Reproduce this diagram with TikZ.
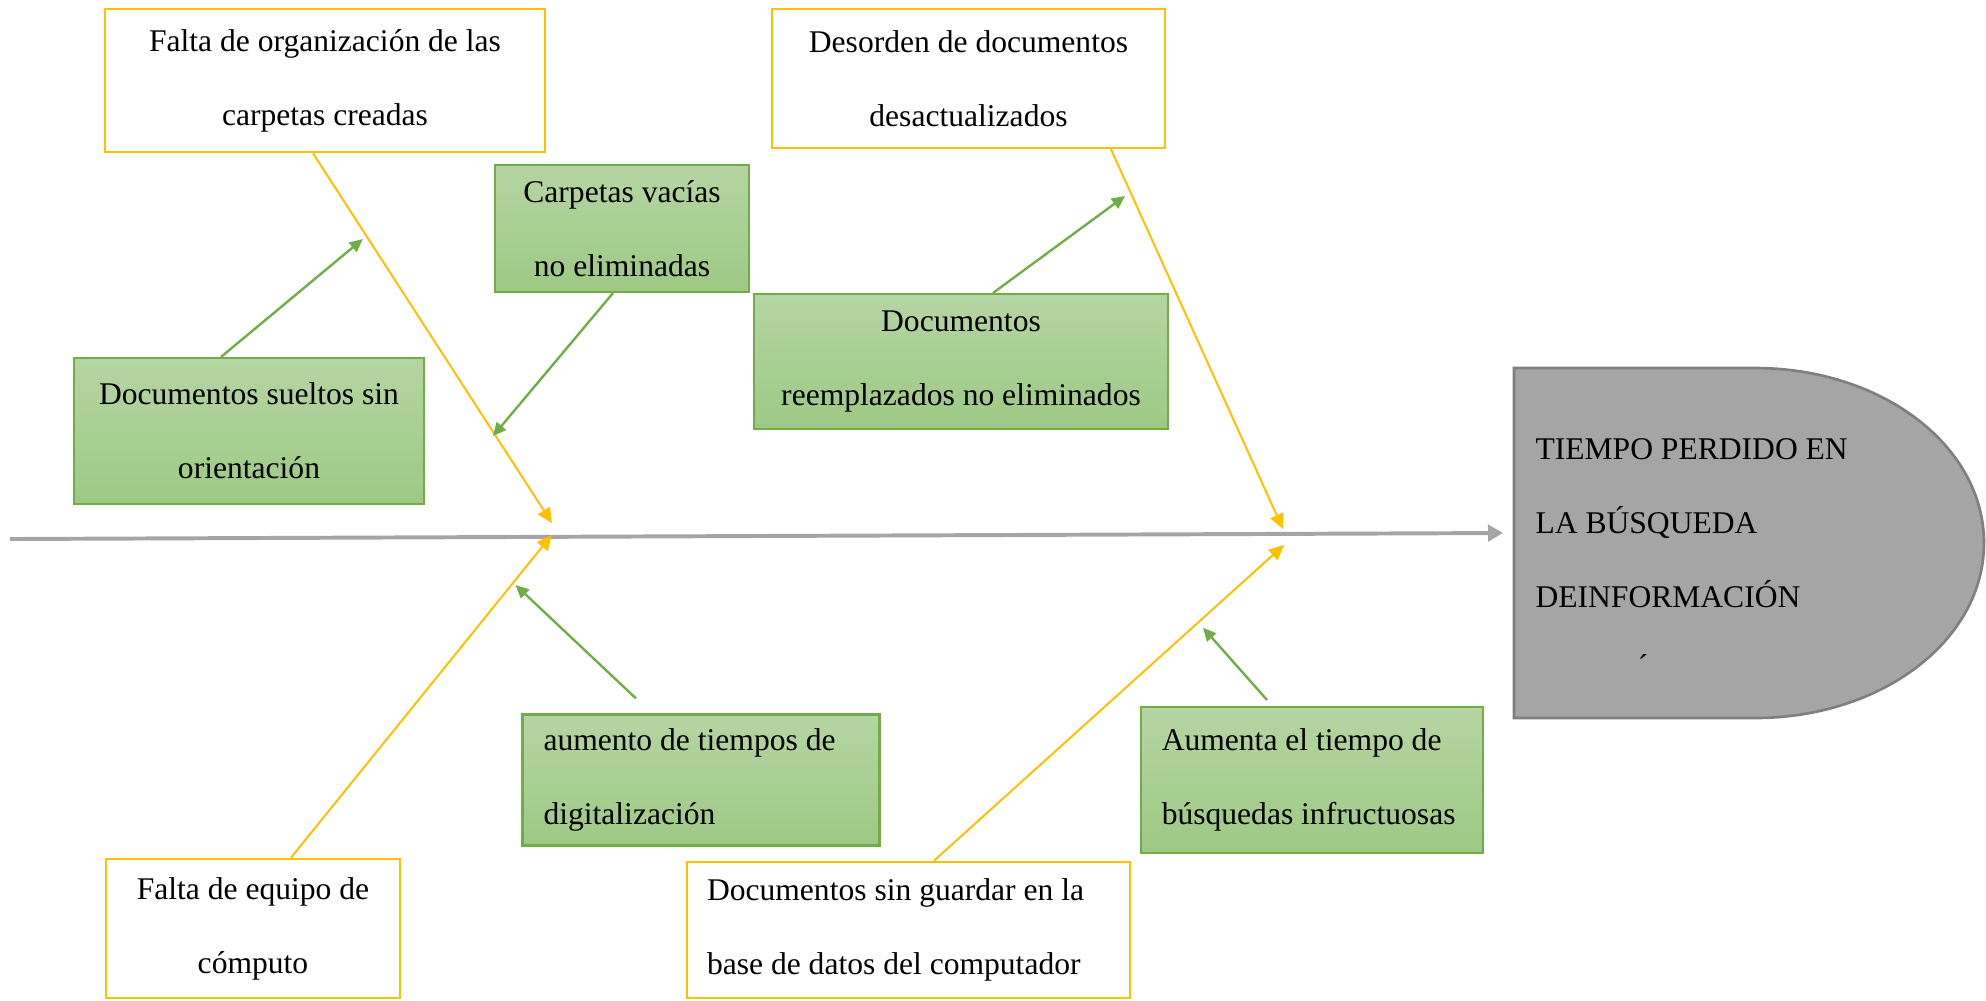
\documentclass[tikz,border=0pt]{standalone}
\usepackage{fontspec}
\setmainfont{Liberation Serif}
\usetikzlibrary{arrows.meta}
\definecolor{causeyellow}{HTML}{FFC000}
\definecolor{subgreen}{HTML}{70AD47}
\definecolor{greentop}{RGB}{181,213,163}
\definecolor{greenbot}{RGB}{157,201,132}
\definecolor{headgray}{HTML}{A5A5A5}
\definecolor{headline}{HTML}{7F7F7F}
\newcommand{\pu}{0.38pt}

\begin{document}
\begin{tikzpicture}
[
 x=0.38pt, y=-0.38pt,
 every node/.style={font=\fontsize{12}{28.1}\selectfont},
 inner sep=0mm,
 C1/.style={rectangle, draw=causeyellow, fill=white, line width=1pt, align=center},
 C2/.style={rectangle, draw=subgreen, top color=greentop, bottom color=greenbot, line width=0.8pt, align=center},
 C2L/.style={C2, align=flush left, inner xsep=21*\pu},
 H1/.style={anchor=base west, inner sep=0pt},
 YA/.style={draw=causeyellow, line width=0.75pt, -{Triangle[length=5.7pt,width=5.3pt]}},
 GA/.style={draw=subgreen, line width=0.9pt, -{Triangle[length=5pt,width=4.6pt]}},
 SP/.style={draw=headgray, line width=1.5pt, -{Triangle[length=5.7pt,width=6.2pt]}}
 ],
 %
\useasboundingbox (0,0) rectangle (1986,1000);
%
% head of the fish
\fill [headgray, draw=headline, line width=1pt] (1514,368) -- (1755,368)
  .. controls (1882,368) and (1984,446) .. (1984,543)
  .. controls (1984,640) and (1882,718) .. (1755,718) -- (1514,718) -- cycle;
\node [H1] (hd1) at (1535,459) {TIEMPO PERDIDO EN};
\node [H1] (hd2) at (1535,533) {LA BÚSQUEDA};
\node [H1] (hd3) at (1535,607) {DEINFORMACIÓN};
\node [anchor=base] (hd4) at (1643,676) {´};
%
% spine
\coordinate (s0) at (10,539);
\coordinate (s1) at (1503,533);
\draw [SP] (s0) -- (s1);
%
% main causes
\node [C1, minimum width=440*\pu, minimum height=143*\pu] (A) at (325,80.5) {Falta de organización de las\\carpetas creadas};
\node [C1, minimum width=393*\pu, minimum height=139*\pu] (B) at (968.5,78.5) {Desorden de documentos\\desactualizados};
\node [C1, minimum width=294*\pu, minimum height=139*\pu] (H) at (253,928.5) {Falta de equipo de\\cómputo};
\node [C1, align=flush left, inner xsep=20*\pu, text width=403*\pu, minimum width=443*\pu, minimum height=136*\pu] (I) at (908.5,930) {Documentos sin guardar en la\\base de datos del computador};
%
% sub causes
\node [C2, minimum width=254*\pu, minimum height=127*\pu] (C) at (622,228.5) {Carpetas vacías\\no eliminadas};
\node [C2, minimum width=350*\pu, minimum height=146*\pu] (D) at (249,431) {Documentos sueltos sin\\orientación};
\node [C2, minimum width=414*\pu, minimum height=135*\pu] (E) at (961,361.5) {Documentos\\reemplazados no eliminados};
\node [C2L, text width=315*\pu, minimum width=357*\pu, minimum height=131*\pu] (G) at (701,780) {aumento de tiempos de\\digitalización};
\node [C2L, text width=300.5*\pu, minimum width=342.5*\pu, minimum height=146*\pu] (J) at (1312,780) {Aumenta el tiempo de\\búsquedas infructuosas};
%
\coordinate (tA) at (552,523);
\coordinate (tH) at (551.7,535);
\coordinate (tB) at (1283,529);
\coordinate (tI) at (1284,545);
\coordinate (ga) at (362.8,239);
\coordinate (gb) at (493,436);
\coordinate (gc) at (1125,196);
\coordinate (gd) at (515.6,585);
\coordinate (ge) at (1203,627.7);
%
\draw [YA] ([xshift=-12*\pu]A.south) -- (tA);
\draw [YA] ([xshift=38*\pu]H.north) -- (tH);
\draw [YA] ([xshift=142.5*\pu]B.south) -- (tB);
\draw [YA] ([xshift=25.5*\pu]I.north) -- (tI);
%
\draw [GA] ([xshift=-28*\pu]D.north) -- (ga);
\draw [GA] ([xshift=-9*\pu]C.south) -- (gb);
\draw [GA] ([xshift=32*\pu]E.north) -- (gc);
\draw [GA] ([xshift=-65*\pu, yshift=15*\pu]G.north) -- (gd);
\draw [GA] ([xshift=-45*\pu, yshift=6*\pu]J.north) -- (ge);
%
\end{tikzpicture}
\end{document}
